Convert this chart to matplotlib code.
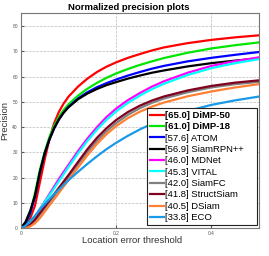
import matplotlib
matplotlib.use("Agg")
import matplotlib.pyplot as plt

plt.rcParams['font.family'] = ['Liberation Sans', 'DejaVu Sans']

# threshold grid shared by all curves
thr = [0, 0.01, 0.02, 0.03, 0.04, 0.05, 0.06, 0.07, 0.08, 0.09, 0.1, 0.12, 0.14,
       0.16, 0.18, 0.2, 0.225, 0.25, 0.275, 0.3, 0.35, 0.4, 0.45, 0.5]

names = ["DiMP-50", "DiMP-18", "ATOM", "SiamRPN++", "MDNet", "VITAL",
         "SiamFC", "StructSiam", "DSiam", "ECO"]
scores = [65.0, 61.0, 57.6, 56.9, 46.0, 45.3, 42.0, 41.8, 40.5, 33.8]

dimp50 = [0, 1, 4, 9, 18, 27, 35, 41.5, 46, 49.3, 52, 56, 59.2, 61.8, 63.9, 65.6,
          67.4, 68.9, 70.3, 71.5, 73.2, 74.5, 75.5, 76.3]
dimp18 = [0, 2, 6, 14, 23, 30, 36, 40.5, 44, 46.8, 49, 52.4, 55.2, 57.5, 59.5, 61.2,
          63, 64.6, 66, 67.3, 69.4, 71.1, 72.4, 73.5]
atom = [0, 2, 6, 12.5, 22, 29.5, 35, 39.5, 43, 45.8, 48, 51.3, 53.8, 55.8, 57.4, 58.8,
        60.4, 61.8, 63.1, 64.2, 66, 67.4, 68.6, 69.7]
siamrpn = [0, 2.5, 7, 13, 22, 29.5, 35, 39.5, 43, 45.7, 47.8, 51, 53.3, 55.1, 56.6, 57.8,
           59.2, 60.4, 61.5, 62.4, 64, 65.3, 66.3, 67.2]
mdnet = [0, 0.5, 2, 4.5, 7.5, 10.5, 13.5, 16.5, 19.5, 22.3, 25, 30.5, 35.5, 40, 44, 47.3,
         50.7, 53.5, 56, 58.1, 61.5, 64.2, 66.1, 67.6]
vital = [0, 0.5, 2, 4.5, 7.5, 10.3, 13, 15.8, 18.6, 21.4, 24.2, 29.6, 34.6, 39, 42.9, 46.2,
         49.6, 52.5, 55, 57.1, 60.6, 63.3, 65.3, 66.9]
siamfc = [0, 0.2, 1.2, 3, 5.3, 7.8, 10.3, 12.8, 15.3, 17.8, 20.3, 25.3, 30.2, 34.6, 38.4,
          41.6, 44.9, 47.5, 49.6, 51.3, 53.8, 55.7, 57, 57.9]
structsiam = [0, 0.3, 1.5, 3.5, 6, 8.5, 11, 13.5, 16, 18.5, 21, 26.2, 31.3, 35.8, 39.6,
              42.8, 46, 48.5, 50.5, 52.1, 54.5, 56.3, 57.6, 58.5]
dsiam = [0, 0, 0.8, 2, 4, 6.5, 9, 11.5, 14, 16.5, 19, 24, 28.9, 33.4, 37.2, 40.4,
         43.6, 46.1, 48.1, 49.7, 52.2, 54.1, 55.7, 57]
eco = [0, 1, 3, 5, 7.5, 9.5, 11.5, 13.5, 15.3, 17.2, 19, 22.3, 25.5, 28.5, 31.3, 33.8,
       36.6, 39.1, 41.3, 43.2, 46.4, 48.8, 50.6, 52.1]

curves = [dimp50, dimp18, atom, siamrpn, mdnet, vital, siamfc, structsiam, dsiam, eco]
colors = ["#ff0000", "#00e600", "#0000ff", "#000000", "#ff00ff", "#00ffff",
          "#808080", "#800020", "#ff8033", "#1a9ae6"]

fig = plt.figure(figsize=(2.69, 2.56), dpi=100)
ax = fig.add_axes([0.077, 0.108, 0.886, 0.840])

for ys, c, n, s in zip(curves, colors, names, scores):
    ax.plot(thr, ys, color=c, lw=1.6, label="[%.1f] %s" % (s, n))

ax.set_xlim(0, 0.5)
ax.set_ylim(0, 85)
ax.set_xticks([0, 0.2, 0.4])
ax.set_xticklabels(["0", "0.2", "0.4"])
ax.set_yticks(range(0, 90, 10))
ax.tick_params(labelsize=3.5, length=2, direction="in", pad=2, colors="#555555")
ax.grid(True, ls="--", lw=0.5, color="#bbbbbb")
for sp in ax.spines.values():
    sp.set_color("#777777")
    sp.set_linewidth(0.8)

ax.set_title("Normalized precision plots", fontsize=6.8, fontweight="bold",
             x=0.452, pad=2.5)
ax.set_xlabel("Location error threshold", fontsize=6.8, labelpad=2, color="#333333")
ax.xaxis.set_label_coords(0.467, -0.035, transform=ax.transAxes)
ax.xaxis.label.set_va("top")
ax.set_ylabel("Precision", fontsize=6.8, labelpad=2, color="#333333")

# legend box stretched to the width seen in the reference
leg = ax.legend(loc="lower left", bbox_to_anchor=(147 / 269, 31 / 256, 110 / 269, 0.3),
                bbox_transform=fig.transFigure, mode="expand", fontsize=6.8,
                frameon=True, fancybox=False, edgecolor="#222222", framealpha=1,
                handlelength=1.5, handletextpad=0.1, borderpad=0.3,
                labelspacing=0.25, borderaxespad=0)
leg.get_frame().set_linewidth(0.8)
for i, t in enumerate(leg.get_texts()):
    if i < 2:
        t.set_fontweight("bold")

fig.savefig("out.png", dpi=100)
